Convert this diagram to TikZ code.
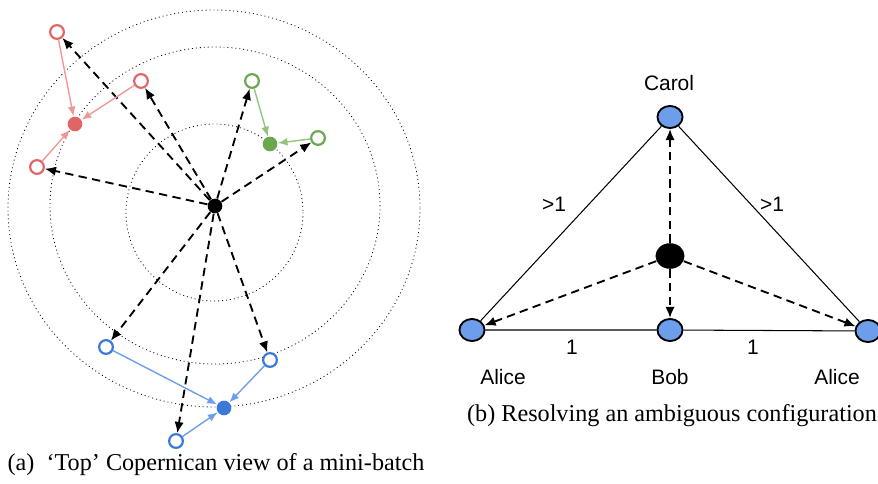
\documentclass[tikz,border=0pt]{standalone}
\usepackage{fontspec}
\setmainfont{Liberation Serif}
\setsansfont{Liberation Sans}
\usepackage{xcolor}
\usetikzlibrary{arrows.meta,shapes.geometric}
\definecolor{redring}{HTML}{E06666}
\definecolor{redpull}{HTML}{EE9999}
\definecolor{greenring}{HTML}{6AA84F}
\definecolor{greenpull}{HTML}{93C47D}
\definecolor{bluering}{HTML}{3C78D8}
\definecolor{bluepull}{HTML}{6D9EEB}
\definecolor{personfill}{HTML}{6D9EEB}
\begin{document}
\begin{tikzpicture}[x=0.43pt,y=-0.43pt,>={Latex[length=4.8pt,width=4pt]},
ring/.style={circle,draw=#1,line width=0.95pt,fill=white,inner sep=0pt,minimum size=5.9pt},
blob/.style={circle,fill=#1,inner sep=0pt,minimum size=6.3pt},
pull/.style={-{Latex[length=4.2pt,width=3.4pt]},#1,line width=0.6pt},
push/.style={->,line width=0.8pt,dash pattern=on 3.6pt off 2.3pt},
orbit/.style={line width=0.35pt,dash pattern=on 0.4pt off 1.3pt},
person/.style={ellipse,draw,line width=0.8pt,fill=personfill,inner sep=0pt,minimum width=10.8pt,minimum height=9.5pt},
who/.style={font=\fontsize{9}{11}\selectfont\sffamily},
subcap/.style={font=\fontsize{10.4}{12}\selectfont}]
\useasboundingbox (0,0) rectangle (878,483);
% (a) the three orbits
\draw[orbit](214.5,212.5)circle[x radius=88.5,y radius=88.5]
(215,205.5)circle[x radius=165,y radius=158.5]
(214,208.5)circle[x radius=206,y radius=198.5];
\node[blob=black](hub)at(215,206){};
\node[ring=redring](r1)at(57,32){};
\node[ring=redring](r2)at(141,81){};
\node[ring=redring](r3)at(37,167){};
\node[blob=redring](rc)at(75,124){};
\node[ring=greenring](g1)at(252,81){};
\node[ring=greenring](g2)at(318,138){};
\node[blob=greenring](gc)at(270,144){};
\node[ring=bluering](b1)at(106,347){};
\node[ring=bluering](b2)at(270,360){};
\node[ring=bluering](b3)at(176,441){};
\node[blob=bluering](bc)at(224,408){};
\foreach \p in {r1,r2,r3,g1,g2,b1,b2,b3}
  \draw[push](hub)--(\p);
\foreach \p in {r1,r2,r3}
  \draw[pull=redpull](\p)--(rc);
\foreach \p in {g1,g2}
  \draw[pull=greenpull](\p)--(gc);
\foreach \p in {b1,b2,b3}
  \draw[pull=bluepull](\p)--(bc);
\node[subcap](capa)at(216,465){(a)\enspace`Top' Copernican view of a mini-batch};
% (b) Carol, Bob and Alice twice
\node[person](carol)at(670,117){};
\node[person](alice1)at(472,330){};
\node[person](bob)at(670,330){};
\node[person](alice2)at(868,331){};
\node[ellipse,fill=black,inner sep=0pt,minimum width=12.5pt,minimum height=11pt](mid)at(670,256){};
\draw[line width=0.45pt](carol)--(alice1) (carol)--(alice2) (alice1)--(bob)--(alice2);
\foreach \p in {carol,bob,alice1,alice2}
  \draw[push](mid)--(\p);
\node[who](carolname)at(669,83){Carol};
\node[who](alice1name)at(503,377){Alice};
\node[who](bobname)at(670,377){Bob};
\node[who](alice2name)at(837,377){Alice};
\node[who](far1)at(554,204){>1};
\node[who](far2)at(772,204){>1};
\node[who](near1)at(572,347){1};
\node[who](near2)at(753,347){1};
\node[subcap](capb)at(672,416){(b) Resolving an ambiguous configuration};
\end{tikzpicture}
\end{document}
